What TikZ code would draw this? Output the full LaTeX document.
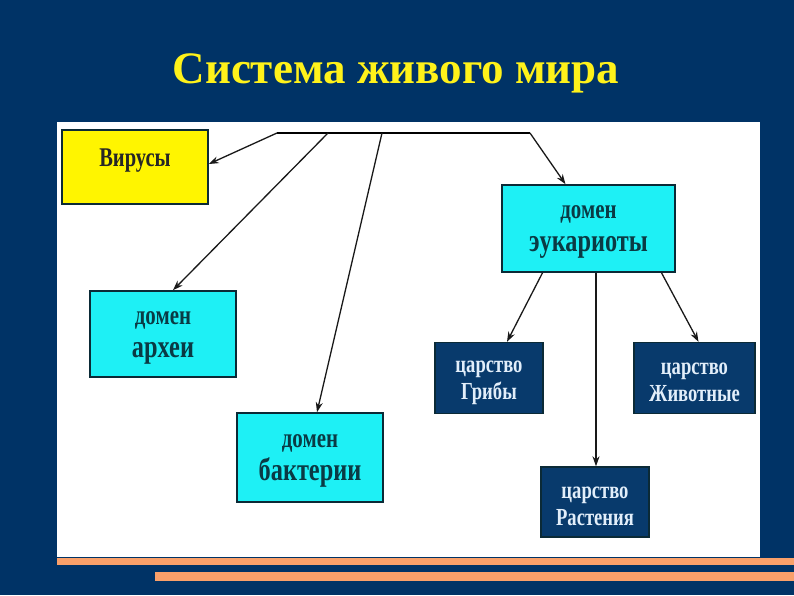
\documentclass[tikz,border=0pt]{standalone}
\usepackage{fontspec}
\setmainfont{Liberation Serif}
\newfontfamily\condfont[FakeStretch=0.76]{Liberation Serif}
\usetikzlibrary{arrows.meta,positioning,calc}
\definecolor{slide}{HTML}{003366}
\definecolor{titley}{HTML}{FFF21A}
\definecolor{domcyan}{HTML}{1EF0F5}
\definecolor{virus}{HTML}{FFF500}
\definecolor{kingdom}{HTML}{083A6C}
\definecolor{edge}{HTML}{0B2A36}
\definecolor{domtext}{HTML}{0A3A44}
\definecolor{kingtext}{HTML}{E2EEFA}
\definecolor{stripe}{HTML}{F9A06A}
\newcommand\ztop{\rule{0pt}{20.5pt}}

\begin{document}
\begin{tikzpicture}[x=1pt,y=-1pt,
    domainbox/.style={draw=edge,line width=1.6pt,fill=domcyan,text=domtext,inner sep=0pt,align=center,
      font=\condfont\bfseries\fontsize{32}{33}\selectfont},
    kingbox/.style={draw=edge,line width=1.4pt,fill=kingdom,text=kingtext,inner sep=0pt,align=center,
      minimum width=108pt,minimum height=71pt,font=\condfont\bfseries\fontsize{24.5}{27}\selectfont},
    link/.style={black!90,line width=1.3pt,-{Stealth[length=10pt,width=7pt]}}]
  \useasboundingbox (0,0) rectangle (794,595);
  \fill[slide] (0,0) rectangle (794,595);
  \fill[white] (57,122) rectangle (760,557);
  % stripes at the bottom
  \fill[stripe] (57,558) rectangle (794,565);
  \fill[stripe] (155,572) rectangle (794,581);

  \node[font=\bfseries\fontsize{45}{50}\selectfont,titley] (title) at (396,73) {Система живого мира};

  % domains
  \node[draw=edge,line width=1.6pt,fill=virus,text=black!85,inner sep=0pt,minimum width=146pt,
    text height=36pt,text depth=38pt,font=\condfont\bfseries\fontsize{27}{30}\selectfont] (vir) at (135,167) {Вирусы};
  \node[domainbox,minimum width=173pt,minimum height=87pt] (euk) at (588.5,228.5)
    {{\fontsize{27.5}{33}\selectfont\ztop домен}\\эукариоты};
  \node[domainbox,minimum width=146pt,minimum height=86pt] (arc) at (163,334)
    {{\fontsize{27.5}{33}\selectfont\ztop домен}\\археи};
  \node[domainbox,minimum width=146pt,minimum height=89pt] (bac) at (310,457.5)
    {{\fontsize{27.5}{33}\selectfont\ztop домен}\\бактерии};

  % kingdoms
  \node[kingbox] (fun) at (489,378) {\ztop царство\\Грибы};
  \node[kingbox,minimum width=121pt] (ani) at (694.5,378) {\ztop царство\\Животные};
  \node[kingbox,minimum height=70pt] (pla) at (595,502) {\ztop царство\\Растения};

  % top bar
  \coordinate (barL) at (277,133);
  \coordinate (barA) at (328,133);
  \coordinate (barB) at (382,133);
  \coordinate (barR) at (530,133);
  \draw[black,line width=2.2pt] (barL) -- (barR);

  \draw[link] (barL) -- ([yshift=3pt]vir.east);
  \draw[link] (barA) -- ([xshift=10pt]arc.north);
  \draw[link] (barB) -- ([xshift=7pt]bac.north);
  \draw[link] (barR) -- ([xshift=-23pt]euk.north);

  \draw[link] ([xshift=-46pt]euk.south) -- ([xshift=18pt]fun.north);
  \draw[link] ([xshift=7.5pt]euk.south) -- ([xshift=1pt]pla.north);
  \draw[link] ([xshift=73pt]euk.south) -- ([xshift=4pt]ani.north);
\end{tikzpicture}
\end{document}
